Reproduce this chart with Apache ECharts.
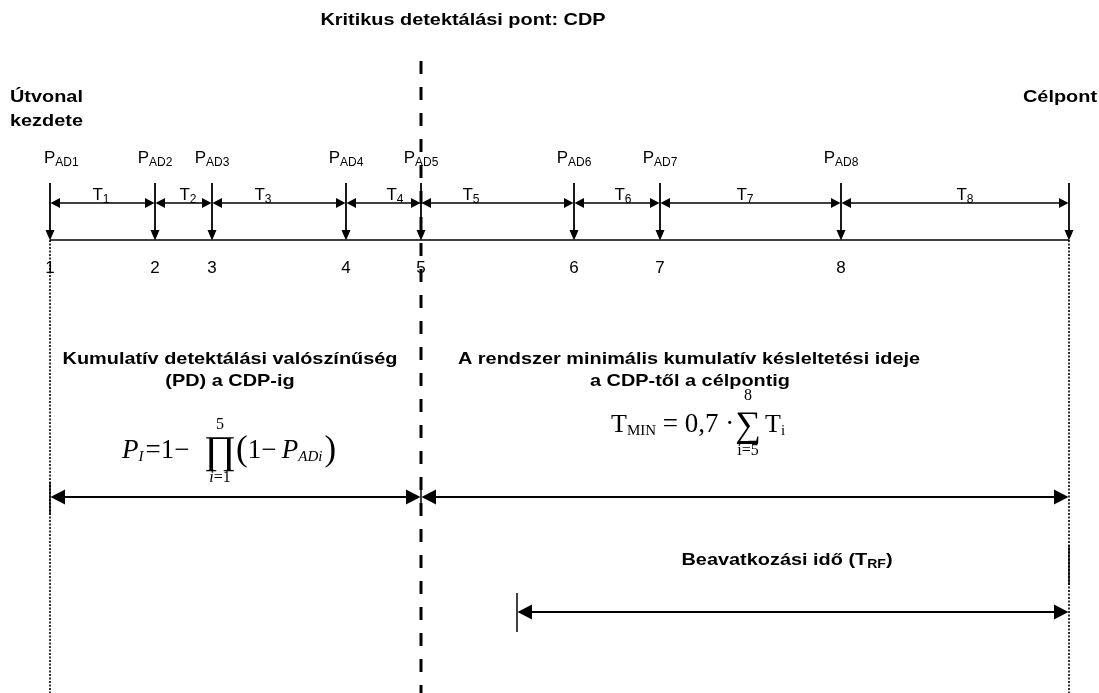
<!DOCTYPE html>
<html>
<head>
<meta charset="utf-8">
<script src="https://cdn.jsdelivr.net/npm/echarts@6/dist/echarts.min.js"></script>
<style>
html,body{margin:0;padding:0;background:#ffffff;}
#c{width:1099px;height:693px;}
</style>
</head>
<body>
<div id="c"></div>
<script>
// ---- Data (positions along the route, in diagram units) ----
const stationNames = ['1', '2', '3', '4', '5', '6', '7', '8'];
const stationPos = [50, 155, 212, 346, 421, 574, 660, 841];
const targetPos = 1069;
const detectionLabels = ['AD1', 'AD2', 'AD3', 'AD4', 'AD5', 'AD6', 'AD7', 'AD8'];
const intervalNames = ['1', '2', '3', '4', '5', '6', '7', '8'];
const intervalLabelPos = [101, 188, 263, 395, 471, 623, 745, 965];
const cdpIndex = 4;
const interventionStart = 517;

// ---- Layout rows (vertical positions) ----
const ROW = {
  padLabel: 158, dropTop: 183, tLabel: 195, tArrow: 203, base: 240, num: 268,
  cdpTop: 61, span: 497, rf: 612, bottom: 693
};
const INK = '#000000';
const SANS = '"Liberation Sans", Arial, sans-serif';
const SERIF = '"Liberation Serif", "Times New Roman", serif';

function hArrow(api, x1, x2, y, head, half, lw) {
  const a = api.coord([x1, y]), b = api.coord([x2, y]);
  return [
    {type: 'line', shape: {x1: a[0] + head - 2, y1: a[1], x2: b[0] - head + 2, y2: b[1]}, style: {stroke: INK, lineWidth: lw}},
    {type: 'polygon', shape: {points: [[a[0] + 0.5, a[1]], [a[0] + head, a[1] - half], [a[0] + head, a[1] + half]]}, style: {fill: INK}},
    {type: 'polygon', shape: {points: [[b[0] - 0.5, b[1]], [b[0] - head, b[1] - half], [b[0] - head, b[1] + half]]}, style: {fill: INK}}
  ];
}
function vLine(api, x, y1, y2, lw, dash) {
  const a = api.coord([x, y1]), b = api.coord([x, y2]);
  return {type: 'line', shape: {x1: a[0], y1: a[1], x2: b[0], y2: b[1]},
    style: {stroke: INK, lineWidth: lw, lineDash: dash || null}};
}
function txt(p, text, opts) {
  return {
    type: 'text', x: p[0], y: p[1],
    style: Object.assign({
      text: text, fill: INK, font: '17px ' + SANS,
      align: 'center', verticalAlign: 'middle', textAlign: 'center', textVerticalAlign: 'middle'
    }, opts || {})
  };
}
const subRich = {
  m: {fontSize: 17, fontFamily: SANS, color: INK},
  s: {fontSize: 12, fontFamily: SANS, color: INK, padding: [10, 0, 0, 0]}
};

const intervals = stationPos.map((s, i) => [s, i < stationPos.length - 1 ? stationPos[i + 1] : targetPos, intervalLabelPos[i], i]);
const drops = stationPos.concat([targetPos]).map(x => [x, ROW.base]);
const spans = [
  [stationPos[0], stationPos[cdpIndex], ROW.span],
  [stationPos[cdpIndex], targetPos, ROW.span],
  [interventionStart, targetPos, ROW.rf]
];
const ticks = [
  [stationPos[0], ROW.span - 15, ROW.span + 18],
  [stationPos[cdpIndex], ROW.span - 17, ROW.span + 18],
  [interventionStart, ROW.rf - 19, ROW.rf + 20],
  [targetPos, ROW.rf - 67, ROW.rf - 27]
];

const base = {
  type: 'custom', coordinateSystem: 'cartesian2d', silent: true, animation: false,
  encode: {x: 0, y: 1}
};

const option = {
  backgroundColor: '#ffffff',
  animation: false,
  grid: {left: 0, right: 0, top: 0, bottom: 0},
  xAxis: {type: 'value', min: 0, max: 1099, show: false},
  yAxis: {type: 'value', min: 0, max: 693, inverse: true, show: false},
  series: [
    // dotted guides at route start and target
    Object.assign({}, base, {
      data: [[stationPos[0], ROW.base], [targetPos, ROW.base]],
      renderItem: (params, api) => vLine(api, api.value(0), ROW.base, ROW.bottom, 1.6, [2, 1.5])
    }),
    // critical detection point (dashed)
    Object.assign({}, base, {
      data: [[stationPos[cdpIndex], ROW.cdpTop]],
      renderItem: (params, api) => vLine(api, api.value(0), ROW.cdpTop, ROW.bottom, 3, [13, 13])
    }),
    // route baseline
    Object.assign({}, base, {
      data: [[stationPos[0], targetPos]],
      renderItem: (params, api) => {
        const a = api.coord([api.value(0), ROW.base]), b = api.coord([api.value(1), ROW.base]);
        return {type: 'line', shape: {x1: a[0], y1: a[1], x2: b[0], y2: b[1]}, style: {stroke: INK, lineWidth: 1.6}};
      }
    }),
    // detection drops
    Object.assign({}, base, {
      data: drops,
      renderItem: (params, api) => {
        const x = api.value(0);
        const t = api.coord([x, ROW.dropTop]), b = api.coord([x, ROW.base]);
        return {type: 'group', children: [
          {type: 'line', shape: {x1: t[0], y1: t[1], x2: b[0], y2: b[1] - 8}, style: {stroke: INK, lineWidth: 1.8}},
          {type: 'polygon', shape: {points: [[b[0] - 4.5, b[1] - 10], [b[0] + 4.5, b[1] - 10], [b[0], b[1] + 0.5]]}, style: {fill: INK}}
        ]};
      }
    }),
    // interval arrows T_i
    Object.assign({}, base, {
      data: intervals,
      renderItem: (params, api) => {
        const i = api.value(3);
        const children = hArrow(api, api.value(0), api.value(1), ROW.tArrow, 10, 5, 1.5);
        children.push(txt(api.coord([api.value(2), ROW.tLabel]), '{m|T}{s|' + intervalNames[i] + '}', {rich: subRich}));
        return {type: 'group', children: children};
      }
    }),
    // station labels: P_ADi above, number below
    Object.assign({}, base, {
      data: stationPos.map((x, i) => [x, ROW.num, i]),
      renderItem: (params, api) => {
        const i = api.value(2), x = api.value(0);
        const first = i === 0;
        const pTop = api.coord([first ? x - 6 : x, ROW.padLabel]);
        return {type: 'group', children: [
          txt(pTop, '{m|P}{s|' + detectionLabels[i] + '}', first
            ? {rich: subRich, align: 'left', textAlign: 'left'} : {rich: subRich}),
          txt(api.coord([x, ROW.num]), stationNames[i])
        ]};
      }
    }),
    // long span arrows
    Object.assign({}, base, {
      data: spans,
      renderItem: (params, api) => ({type: 'group', children: hArrow(api, api.value(0), api.value(1), api.value(2), 15, 7.5, 2)})
    }),
    // short ticks
    Object.assign({}, base, {
      data: ticks,
      renderItem: (params, api) => vLine(api, api.value(0), api.value(1), api.value(2), 1.5)
    })
  ],
  graphic: {elements: []}
};

const boldFont = 'bold 17px ' + SANS;
const SX = 1.17;
function gText(x, y, text, align, extra) {
  return {
    type: 'text', x: x, y: y, silent: true,
    style: Object.assign({
      text: text, fill: INK, font: boldFont,
      align: align, textAlign: align, verticalAlign: 'middle', textVerticalAlign: 'middle'
    }, extra || {})
  };
}
const G = option.graphic.elements;
[
  [463, 20, 'Kritikus detektálási pont: CDP', 'center'],
  [10, 97, 'Útvonal', 'left'],
  [10, 121, 'kezdete', 'left'],
  [1097, 97, 'Célpont', 'right'],
  [230, 359, 'Kumulatív detektálási valószínűség', 'center'],
  [230, 381, '(PD) a CDP-ig', 'center'],
  [689, 359, 'A rendszer minimális kumulatív késleltetési ideje', 'center'],
  [690, 381, 'a CDP-től a célpontig', 'center']
].forEach(t => { const e = gText(t[0], t[1], t[2], t[3]); e.scaleX = SX; G.push(e); });

const rfText = gText(787, 560, '{b|Beavatkozási idő (T}{s|RF}{b|)}', 'center', {
  rich: {
    b: {fontSize: 17, fontWeight: 'bold', fontFamily: SANS, color: INK},
    s: {fontSize: 12, fontWeight: 'bold', fontFamily: SANS, color: INK, padding: [9, 0, 0, 0]}
  }
});
rfText.scaleX = SX;
G.push(rfText);

// Formula 1: P_I = 1 - prod_{i=1}^{5} (1 - P_ADi)
const fRich = {
  p: {fontSize: 27, fontStyle: 'italic', fontFamily: SERIF, color: INK},
  n: {fontSize: 27, fontFamily: SERIF, color: INK},
  s: {fontSize: 15, fontStyle: 'italic', fontFamily: SERIF, color: INK, padding: [12, 2, 0, 0]},
  su: {fontSize: 15, fontFamily: SERIF, color: INK, padding: [12, 0, 0, 0]},
  bp: {fontSize: 35, fontFamily: SERIF, color: INK},
  t: {fontSize: 26, fontFamily: SERIF, color: INK},
  lim: {fontSize: 16, fontFamily: SERIF, color: INK},
  limi: {fontSize: 16, fontStyle: 'italic', fontFamily: SERIF, color: INK}
};
function fText(x, y, text, align, fontSize) {
  return {
    type: 'text', x: x, y: y, silent: true,
    style: {text: text, rich: fRich, fill: INK, font: (fontSize || 26) + 'px ' + SERIF,
      align: align, textAlign: align, verticalAlign: 'middle', textVerticalAlign: 'middle'}
  };
}
G.push(fText(122, 451, '{p|P}{s|I}{n|=1−}', 'left'));
G.push(fText(220, 453, '∏', 'center', 39));
G.push(fText(220, 425, '{lim|5}', 'center'));
G.push(fText(220, 478, '{limi|i}{lim|=1}', 'center'));
G.push(fText(236, 451, '{bp|(}{n|1−\u2009}{p|P}{s|ADi}{bp|)}', 'left'));

// Formula 2: T_MIN = 0,7 * sum_{i=5}^{8} T_i
G.push(fText(611, 425, '{t|T}{su|MIN}{n| = 0,7 · }', 'left'));
G.push(fText(748, 427, '∑', 'center', 36));
G.push(fText(748, 396, '{lim|8}', 'center'));
G.push(fText(748, 451, '{lim|i=5}', 'center'));
G.push(fText(765, 425, '{t|T}{su|i}', 'left'));

const chart = echarts.init(document.getElementById('c'), null, {renderer: 'canvas'});
chart.setOption(option);
</script>
</body>
</html>
